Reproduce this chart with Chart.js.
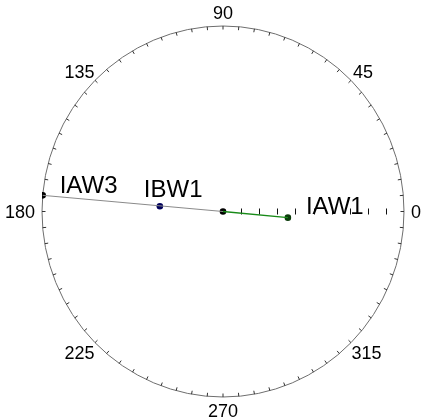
<!DOCTYPE html>
<html>
<head>
<meta charset="utf-8">
<script src="https://cdn.jsdelivr.net/npm/chart.js@4/dist/chart.umd.min.js"></script>
<style>
  html, body { margin: 0; padding: 0; background: #ffffff; }
  #wrap { width: 421px; height: 417px; }
</style>
</head>
<body>
<div id="wrap"><canvas id="phasor"></canvas></div>
<script>
// Phasor names, magnitudes (per unit of the outer ring) and angles in degrees
const phasorNames = ['IAW1', 'IBW1', 'IAW3'];
const phasorMagnitudes = [0.36, 0.35, 1.0];
const phasorAngles = [354.7, 175.3, 175.0];
const phasorColors = ['#0b3b0b', '#00005a', '#000000'];

// Angle labels around the ring and radial ticks along the 0° axis
const angleLabels = [0, 45, 90, 135, 180, 225, 270, 315];
const radialTicks = [0.1, 0.2, 0.3, 0.4, 0.5, 0.6, 0.7, 0.8, 0.9];
const ringTickStep = 5;

function toXY(mag, deg) {
  const a = deg * Math.PI / 180;
  return { x: mag * Math.cos(a), y: mag * Math.sin(a) };
}

const points = phasorNames.map((n, i) => toXY(phasorMagnitudes[i], phasorAngles[i]));
const origin = { x: 0, y: 0 };
const idx = name => phasorNames.indexOf(name);

// Ring, ring ticks, radial ticks and angle labels
const polarFrame = {
  id: 'polarFrame',
  beforeDatasetsDraw(chart) {
    const { ctx, scales: { x, y } } = chart;
    const cx = x.getPixelForValue(0), cy = y.getPixelForValue(0);
    const rx = x.getPixelForValue(1) - cx, ry = cy - y.getPixelForValue(1);
    ctx.save();
    ctx.strokeStyle = '#6e6e6e';
    ctx.lineWidth = 1;
    ctx.beginPath();
    ctx.ellipse(cx, cy, rx, ry, 0, 0, Math.PI * 2);
    ctx.stroke();
    ctx.strokeStyle = '#333';
    for (let d = 0; d < 360; d += ringTickStep) {
      const a = d * Math.PI / 180;
      const c = Math.cos(a), s = Math.sin(a);
      ctx.beginPath();
      ctx.moveTo(cx + rx * c, cy - ry * s);
      ctx.lineTo(cx + (rx - 3.5) * c, cy - (ry - 3.5) * s);
      ctx.stroke();
    }
    ctx.strokeStyle = '#111';
    radialTicks.forEach(t => {
      const px = x.getPixelForValue(t);
      ctx.beginPath();
      ctx.moveTo(Math.round(px) + 0.5, cy - 3);
      ctx.lineTo(Math.round(px) + 0.5, cy + 3);
      ctx.stroke();
    });
    ctx.fillStyle = '#000';
    ctx.font = '18px "Liberation Sans", Arial, sans-serif';
    ctx.textBaseline = 'middle';
    ctx.textAlign = 'center';
    angleLabels.forEach(d => {
      const a = d * Math.PI / 180;
      const c = Math.cos(a), s = Math.sin(a);
      const txt = String(d);
      const w = ctx.measureText(txt).width, h = 13;
      const px = cx + (rx + 7) * c + c * w / 2;
      const py = cy - (ry + 7) * s - s * h / 2;
      ctx.fillText(txt, px, py + 2);
    });
    ctx.restore();
  },
  afterDatasetsDraw(chart) {
    const { ctx, scales: { x, y } } = chart;
    const offsets = { IAW1: [18, -4], IBW1: [-16, -9], IAW3: [17, -2] };
    ctx.save();
    ctx.fillStyle = '#000';
    ctx.font = '24px "Liberation Sans", Arial, sans-serif';
    ctx.textAlign = 'left';
    ctx.textBaseline = 'alphabetic';
    phasorNames.forEach((n, i) => {
      const px = x.getPixelForValue(points[i].x);
      const py = y.getPixelForValue(points[i].y);
      ctx.fillText(n, px + offsets[n][0], py + offsets[n][1]);
    });
    ctx.restore();
  }
};

new Chart(document.getElementById('phasor'), {
  type: 'scatter',
  data: {
    datasets: [
      {
        label: 'IAW3 - IBW1',
        data: [points[idx('IAW3')], origin],
        showLine: true,
        borderColor: '#8a8a8a',
        borderWidth: 1,
        pointRadius: 0
      },
      {
        label: 'IAW1',
        data: [origin, points[idx('IAW1')]],
        showLine: true,
        borderColor: '#188a18',
        borderWidth: 1.3,
        pointRadius: 0
      },
      {
        label: 'points',
        data: [origin, ...points],
        pointRadius: 3.3,
        pointBackgroundColor: ['#000000', ...phasorColors],
        pointBorderColor: ['#000000', ...phasorColors],
        borderWidth: 0
      }
    ]
  },
  options: {
    responsive: true,
    maintainAspectRatio: false,
    animation: false,
    layout: { padding: { left: 42, right: 17, top: 26, bottom: 20 } },
    scales: {
      x: { type: 'linear', min: -1, max: 1, display: false },
      y: { type: 'linear', min: -1, max: 1, display: false }
    },
    plugins: {
      legend: { display: false },
      tooltip: { enabled: false }
    }
  },
  plugins: [polarFrame]
});
</script>
</body>
</html>
